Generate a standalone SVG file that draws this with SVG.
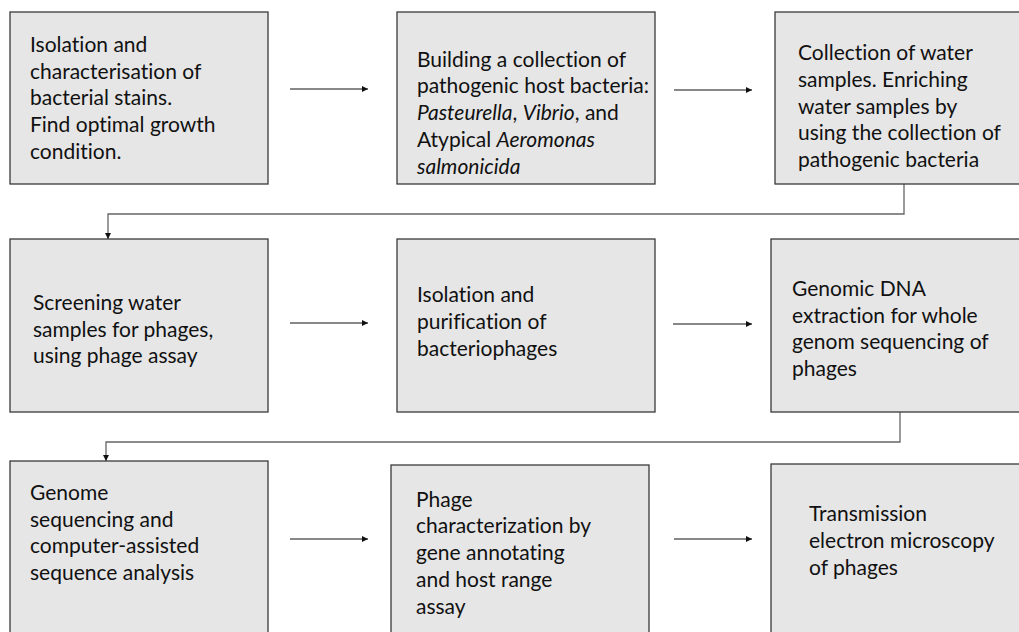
<svg xmlns="http://www.w3.org/2000/svg" width="1019" height="632" viewBox="0 0 1019 632">
<style>
.box{fill:#e6e6e6;stroke:#3a3a3a;stroke-width:1.3}
.t{font-family:Lato,"Liberation Sans",sans-serif;font-size:21px;fill:#111;font-variant-ligatures:none}
.i{font-style:italic}
.arr{stroke:#111;stroke-width:1;fill:none}
.con{stroke:#666;stroke-width:1.3;fill:none}
</style>
<defs>
<marker id="ah" viewBox="0 0 10 10" refX="10" refY="5" markerWidth="7" markerHeight="6" markerUnits="userSpaceOnUse" orient="auto">
<path d="M0,0 L10,5 L0,10 Z" fill="#111"/>
</marker>
</defs>
<g id="connectors">
<line class="arr" x1="290" y1="89" x2="368" y2="89" marker-end="url(#ah)"/>
<line class="arr" x1="674" y1="90" x2="752" y2="90" marker-end="url(#ah)"/>
<path class="con" d="M904,184 V214 H108 V239" marker-end="url(#ah)"/>
<line class="arr" x1="290" y1="323" x2="368" y2="323" marker-end="url(#ah)"/>
<line class="arr" x1="673" y1="324" x2="752" y2="324" marker-end="url(#ah)"/>
<path class="con" d="M900,412 V442 H106 V461" marker-end="url(#ah)"/>
<line class="arr" x1="290" y1="539" x2="368" y2="539" marker-end="url(#ah)"/>
<line class="arr" x1="674" y1="539" x2="752" y2="539" marker-end="url(#ah)"/>
</g>
<g id="n1">
<rect class="box" x="10" y="12" width="258" height="172"/>
<text class="t" x="30" y="52">Isolation and</text>
<text class="t" x="30" y="79">characterisation of</text>
<text class="t" x="30" y="105">bacterial stains.</text>
<text class="t" x="30" y="132">Find optimal growth</text>
<text class="t" x="30" y="159">condition.</text>
</g>
<g id="n2">
<rect class="box" x="397" y="12" width="258" height="172"/>
<text class="t" x="417" y="67">Building a collection of</text>
<text class="t" x="417" y="93">pathogenic host bacteria:</text>
<text class="t" x="417" y="120"><tspan class="i">Pasteurella</tspan>, <tspan class="i">Vibrio</tspan>, and</text>
<text class="t" x="417" y="147">Atypical <tspan class="i">Aeromonas</tspan></text>
<text class="t i" x="417" y="174">salmonicida</text>
</g>
<g id="n3">
<rect class="box" x="775" y="12" width="260" height="172"/>
<text class="t" x="798" y="60">Collection of water</text>
<text class="t" x="798" y="87">samples. Enriching</text>
<text class="t" x="798" y="114">water samples by</text>
<text class="t" x="798" y="140">using the collection of</text>
<text class="t" x="798" y="167">pathogenic bacteria</text>
</g>
<g id="n4">
<rect class="box" x="10" y="239" width="258" height="173"/>
<text class="t" x="33" y="310">Screening water</text>
<text class="t" x="33" y="337">samples for phages,</text>
<text class="t" x="33" y="363">using phage assay</text>
</g>
<g id="n5">
<rect class="box" x="397" y="239" width="258" height="173"/>
<text class="t" x="417" y="302">Isolation and</text>
<text class="t" x="417" y="329">purification of</text>
<text class="t" x="417" y="356">bacteriophages</text>
</g>
<g id="n6">
<rect class="box" x="771" y="239" width="264" height="173"/>
<text class="t" x="792" y="296">Genomic DNA</text>
<text class="t" x="792" y="323">extraction for whole</text>
<text class="t" x="792" y="349">genom sequencing of</text>
<text class="t" x="792" y="376">phages</text>
</g>
<g id="n7">
<rect class="box" x="10" y="461" width="258" height="180"/>
<text class="t" x="30" y="500">Genome</text>
<text class="t" x="30" y="527">sequencing and</text>
<text class="t" x="30" y="553">computer-assisted</text>
<text class="t" x="30" y="580">sequence analysis</text>
</g>
<g id="n8">
<rect class="box" x="391" y="465" width="258" height="180"/>
<text class="t" x="416" y="507">Phage</text>
<text class="t" x="416" y="533">characterization by</text>
<text class="t" x="416" y="560">gene annotating</text>
<text class="t" x="416" y="587">and host range</text>
<text class="t" x="416" y="614">assay</text>
</g>
<g id="n9">
<rect class="box" x="771" y="464" width="264" height="180"/>
<text class="t" x="809" y="521">Transmission</text>
<text class="t" x="809" y="548">electron microscopy</text>
<text class="t" x="809" y="575">of phages</text>
</g>
</svg>
